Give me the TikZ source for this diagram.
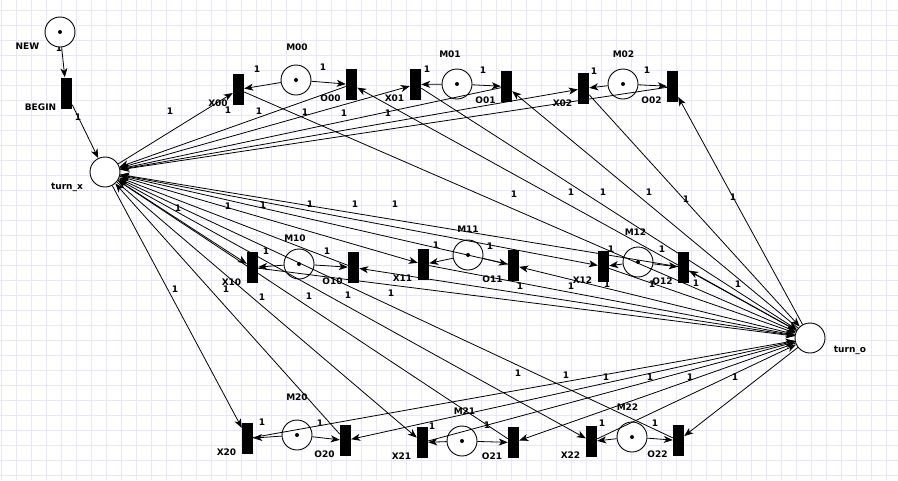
\documentclass[tikz,border=0pt]{standalone}
\usepackage{fontspec}
\setmainfont{DejaVu Sans}
\usetikzlibrary{arrows.meta}
\definecolor{gridc}{RGB}{233,230,251}
\tikzset{
  place/.style={circle,draw=black,line width=0.9pt,fill=white,minimum size=30pt,inner sep=0pt},
  trans/.style={rectangle,fill=black,draw=none,minimum width=11pt,minimum height=31pt,inner sep=0pt},
  tok/.style={circle,fill=black,minimum size=4pt,inner sep=0pt},
  lbl/.style={inner sep=0pt,font=\fontsize{9}{10}\selectfont\bfseries},
  wt/.style={inner sep=0pt,font=\fontsize{9}{10}\selectfont\bfseries},
  arc/.style={draw=black,line width=0.8pt,-{Stealth[length=9pt,width=7pt,inset=2.5pt]}},
  gridl/.style={draw=gridc,line width=0.9pt}
}
\begin{document}
\begin{tikzpicture}[x=1pt,y=-1pt]
\useasboundingbox (0,0) rectangle (898,480);
\fill[white] (0,0) rectangle (898,480);
\foreach \x in {1,16,...,886} \draw[gridl] (\x,0) -- (\x,480);
\foreach \y in {10,25,...,475} \draw[gridl] (0,\y) -- (898,\y);
% weight label hidden partly by NEW
\node[wt] (w0) at (59,48) {1};
% places
\node[place] (NEW) at (60,32) {};
\node[tok] (tNEW) at (NEW) {};
\node[place] (turnx) at (105,172) {};
\node[place] (turno) at (810,338) {};
\node[place] (M00) at (296,80) {};
\node[place] (M01) at (457,84) {};
\node[place] (M02) at (623,84) {};
\node[place] (M10) at (299,264) {};
\node[place] (M11) at (468,255) {};
\node[place] (M12) at (638,262) {};
\node[place] (M20) at (297,435) {};
\node[place] (M21) at (462,441) {};
\node[place] (M22) at (632,437) {};
\foreach \m in {M00,M01,M02,M10,M11,M12,M20,M21,M22} \node[tok] (t\m) at (\m) {};
% transitions
\node[trans] (BEGIN) at (66.5,93) {};
\node[trans] (X00) at (238.5,89.5) {};
\node[trans] (O00) at (351.5,84.5) {};
\node[trans] (X01) at (415.5,84.5) {};
\node[trans] (O01) at (506.5,86.5) {};
\node[trans] (X02) at (583.5,88.5) {};
\node[trans] (O02) at (672.5,86.5) {};
\node[trans] (X10) at (252.5,267.5) {};
\node[trans] (O10) at (353.5,267.5) {};
\node[trans] (X11) at (423.5,264.5) {};
\node[trans] (O11) at (513.5,265.5) {};
\node[trans] (X12) at (603.5,266.5) {};
\node[trans] (O12) at (683.5,267.5) {};
\node[trans] (X20) at (247.5,438.5) {};
\node[trans] (O20) at (345.5,440.5) {};
\node[trans] (X21) at (422.5,442.5) {};
\node[trans] (O21) at (513.5,442.5) {};
\node[trans] (X22) at (591.5,441.5) {};
\node[trans] (O22) at (678.5,440.5) {};
% arcs
\draw[arc] (NEW) -- (BEGIN);
\draw[arc] (BEGIN) -- (turnx);
\foreach \i in {0,1,2}{\foreach \j in {0,1,2}{
  \draw[arc] (M\i\j) -- (X\i\j);
  \draw[arc] (M\i\j) -- (O\i\j);
  \draw[arc] (turnx) -- (X\i\j);
  \draw[arc] (X\i\j) -- (turno);
  \draw[arc] (turno) -- (O\i\j);
  \draw[arc] (O\i\j) -- (turnx);
}}
% node labels
\node[lbl] (lNEW) at (27.5,46.5) {NEW};
\node[lbl] (lBEGIN) at (40.5,107.5) {BEGIN};
\node[lbl] (lturnx) at (67,187) {turn\_x};
\node[lbl] (lturno) at (850,350) {turn\_o};
\node[lbl] (lM00) at (297,47.5) {M00};
\node[lbl] (lX00) at (218,103.5) {X00};
\node[lbl] (lO00) at (330.5,98.5) {O00};
\node[lbl] (lM01) at (450,54) {M01};
\node[lbl] (lX01) at (394.5,98.5) {X01};
\node[lbl] (lO01) at (485.5,100.5) {O01};
\node[lbl] (lM02) at (623.5,54) {M02};
\node[lbl] (lX02) at (562.5,103.5) {X02};
\node[lbl] (lO02) at (651.5,100.5) {O02};
\node[lbl] (lM10) at (295,238.5) {M10};
\node[lbl] (lX10) at (231.5,282) {X10};
\node[lbl] (lO10) at (332.5,281.5) {O10};
\node[lbl] (lX11) at (402.5,278.5) {X11};
\node[lbl] (lM11) at (468,229.5) {M11};
\node[lbl] (lO11) at (492.5,279.5) {O11};
\node[lbl] (lX12) at (582.5,280.5) {X12};
\node[lbl] (lM12) at (635.5,232.5) {M12};
\node[lbl] (lO12) at (662.5,281.5) {O12};
\node[lbl] (lM20) at (297,397.5) {M20};
\node[lbl] (lX20) at (226.5,452.5) {X20};
\node[lbl] (lO20) at (324.5,454.5) {O20};
\node[lbl] (lX21) at (401.5,456.5) {X21};
\node[lbl] (lM21) at (464.5,411.5) {M21};
\node[lbl] (lO21) at (492,456.5) {O21};
\node[lbl] (lX22) at (570.5,455.5) {X22};
\node[lbl] (lM22) at (627.5,407) {M22};
\node[lbl] (lO22) at (657.5,454.5) {O22};
% weight labels
\foreach \p [count=\k] in {(78,117),
 (257,69),(323,67),(427,69),(483,70),(594,71),(647,70),
 (266,251),(327,251),(436,245),(490,246),(611,249),(662,249),
 (262,422),(320,423),(432,426),(487,425),(602,423),(655,423),
 (170,111),(228,110),(259,111),(305,112),(344,113),(388,113),
 (178,208),(228,206),(263,205),(310,204),(355,204),(395,204),
 (175,289),(226,289),(262,297),(309,296),(348,295),(391,293),
 (514,194),(571,192),(603,192),(649,192),(686,199),(733,197),
 (520,286),(571,286),(607,284),(652,284),(696,283),(738,284),
 (518,373),(566,375),(606,377),(650,377),(690,377),(735,377)}
  \node[wt] (w\k) at \p {1};
\end{tikzpicture}
\end{document}
